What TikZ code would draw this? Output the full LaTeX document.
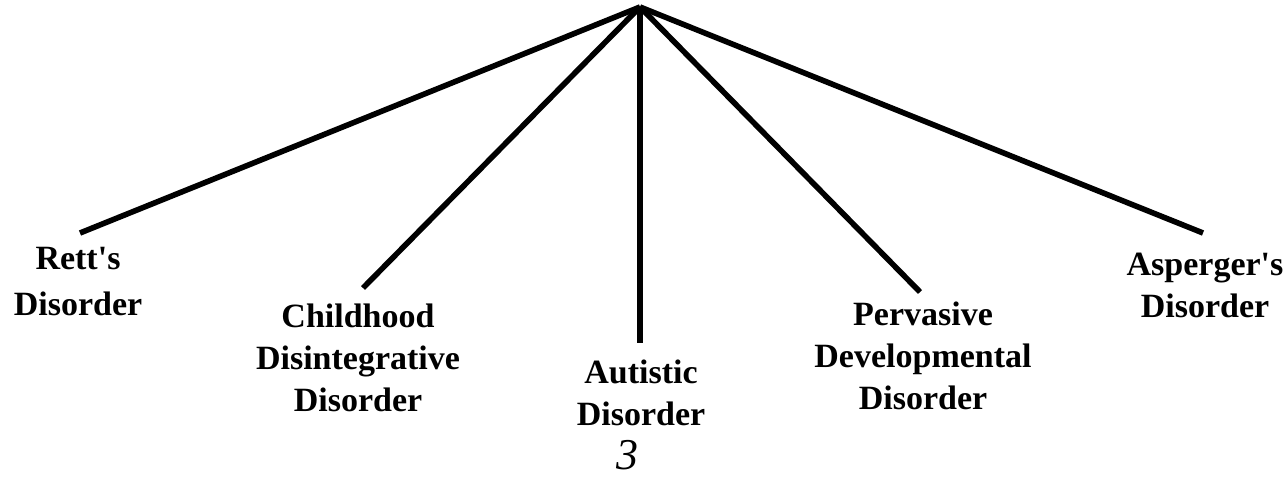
\documentclass[tikz,border=0pt]{standalone}
\usepackage{fontspec}
\setmainfont{Liberation Serif}

\begin{document}
\begin{tikzpicture}[x=0.5pt,y=-0.5pt,
  branch/.style={line width=2.8pt},
  disorder/.style={font=\fontsize{17}{21}\selectfont\bfseries,align=center,inner sep=0pt,anchor=north}]
\useasboundingbox (0,0) rectangle (1288,476);

% apex and the free ends of the branches
\coordinate (top) at (640,7);
\coordinate (rett end) at (80,233);
\coordinate (cdd end) at (363,288);
\coordinate (autistic end) at (640,343);
\coordinate (pdd end) at (920,292);
\coordinate (asperger end) at (1203,233);

% labels
\node[disorder,font=\fontsize{17}{23}\selectfont\bfseries] (rett) at (78,247) {Rett\textquotesingle s\\Disorder};
\node[disorder] (cdd) at (358,304) {Childhood\\Disintegrative\\Disorder};
\node[disorder] (autistic) at (641,360) {Autistic\\Disorder};
\node[disorder] (pdd) at (923,302) {Pervasive\\Developmental\\Disorder};
\node[disorder] (asperger) at (1205,253) {Asperger\textquotesingle s\\Disorder};
\node[font=\fontsize{22}{22}\selectfont\itshape] (page) at (627,455) {3};

% branches
\draw[branch] (top) -- (rett end);
\draw[branch] (top) -- (cdd end);
\draw[branch] (top) -- (autistic end);
\draw[branch] (top) -- (pdd end);
\draw[branch] (top) -- (asperger end);
\end{tikzpicture}
\end{document}
